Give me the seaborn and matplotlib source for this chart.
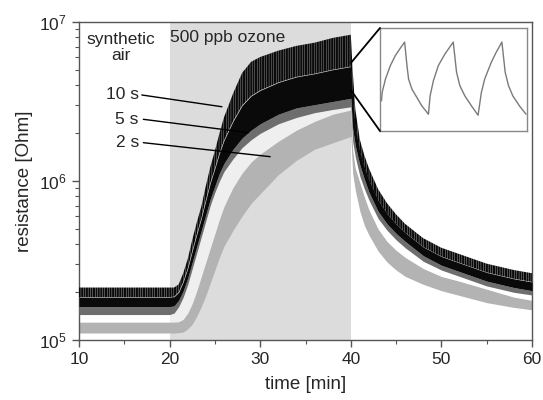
import numpy as np
import matplotlib
matplotlib.use("Agg")
import matplotlib.pyplot as plt
import seaborn as sns
from matplotlib.patches import ConnectionPatch

# ---------------- data ----------------
time_min = [10, 20, 20.5, 21, 21.5, 22, 22.5, 23, 23.5, 24, 24.5, 25, 25.5, 26,
            27, 28, 29, 30, 32, 34, 36, 38, 40,
            40.2, 40.5, 41, 41.5, 42, 43, 44, 45, 46, 48, 50, 52, 55, 58, 60]

# log10(resistance / Ohm) envelopes
log_10s_top = [5.33, 5.33, 5.33, 5.35, 5.42, 5.51, 5.63, 5.74, 5.84, 5.97, 6.09, 6.19, 6.30, 6.40,
               6.55, 6.68, 6.75, 6.78, 6.82, 6.85, 6.87, 6.90, 6.92,
               6.70, 6.45, 6.26, 6.16, 6.08, 5.95, 5.86, 5.79, 5.73, 5.64, 5.58, 5.54, 5.48, 5.44, 5.42]
log_10s_bottom = [5.21, 5.21, 5.215, 5.25, 5.31, 5.39, 5.49, 5.59, 5.69, 5.79, 5.89, 5.97, 6.05, 6.11,
                  6.20, 6.27, 6.32, 6.36, 6.42, 6.46, 6.48, 6.50, 6.52,
                  6.33, 6.22, 6.10, 6.01, 5.93, 5.81, 5.73, 5.67, 5.62, 5.53, 5.47, 5.43, 5.37, 5.33, 5.31]
log_5s_bottom = [5.16, 5.16, 5.17, 5.21, 5.27, 5.35, 5.45, 5.55, 5.65, 5.75, 5.85, 5.93, 6.00, 6.06,
                 6.14, 6.21, 6.26, 6.30, 6.36, 6.40, 6.43, 6.45, 6.467,
                 6.25, 6.15, 6.03, 5.95, 5.88, 5.765, 5.69, 5.63, 5.58, 5.495, 5.44, 5.40, 5.34, 5.30, 5.283]
log_2s_top = [5.113, 5.113, 5.113, 5.115, 5.13, 5.17, 5.23, 5.31, 5.40, 5.49, 5.58, 5.67, 5.76, 5.84,
              5.96, 6.05, 6.12, 6.17, 6.25, 6.32, 6.375, 6.42, 6.447,
              6.20, 6.08, 5.99, 5.90, 5.82, 5.70, 5.62, 5.565, 5.52, 5.45, 5.40, 5.37, 5.32, 5.27, 5.25]
log_2s_bottom = [5.044, 5.044, 5.044, 5.046, 5.05, 5.07, 5.10, 5.15, 5.21, 5.28, 5.36, 5.44, 5.52, 5.59,
                 5.69, 5.78, 5.86, 5.92, 6.04, 6.13, 6.20, 6.24, 6.28,
                 6.05, 5.94, 5.81, 5.72, 5.66, 5.56, 5.49, 5.44, 5.40, 5.35, 5.31, 5.28, 5.235, 5.205, 5.19]

# inset: detail of the 10 s pulses (time in s, resistance in MOhm)
inset_time_s = [0.41, 0.68, 2.04, 4.07, 6.11, 8.14, 9.91, 10.86, 11.53, 12.89, 14.93, 16.96, 19.68,
                20.36, 21.71, 23.75, 26.46, 29.85, 31.21, 32.57, 34.60, 37.32, 40.03,
                41.39, 42.75, 45.46, 47.50, 49.81, 51.16, 52.52, 54.28, 57.0, 59.7]
inset_r_mohm = [4.05, 4.62, 5.53, 6.45, 7.13, 7.63, 8.04, 6.45, 5.53, 4.85, 4.28, 3.71, 3.14,
                4.39, 5.42, 6.45, 7.24, 8.04, 5.99, 5.08, 4.39, 3.71, 3.07,
                4.62, 5.53, 6.67, 7.36, 8.04, 5.99, 5.08, 4.39, 3.71, 3.14]

ozone_window = (20, 40)
x_ticks = [10, 20, 30, 40, 50, 60]
pulse_labels = ["10 s", "5 s", "2 s"]
label_text_pos = [(16.6, 6.541), (16.6, 6.388), (16.6, 6.241)]
label_line_start = [(16.93, 6.541), (17.1, 6.388), (17.1, 6.241)]
label_line_end = [(25.77, 6.467), (28.7, 6.304), (31.1, 6.153)]

# ---------------- styling ----------------
sns.set_style("ticks")
plt.rcParams["font.family"] = ["Liberation Sans", "DejaVu Sans"]
plt.rcParams["hatch.linewidth"] = 1.5
plt.rcParams["mathtext.fontset"] = "custom"
plt.rcParams["mathtext.rm"] = "Liberation Sans"

fig = plt.figure(figsize=(5.43, 4.0), dpi=100)
ax = fig.add_axes([0.1455, 0.15, 0.8343, 0.795])

t = np.array(time_min)
top10 = np.array(log_10s_top)
bot10 = np.array(log_10s_bottom)
bot5 = np.array(log_5s_bottom)
top2 = np.array(log_2s_top)
bot2 = np.array(log_2s_bottom)
mid10 = bot10 + 0.5 * (top10 - bot10)

ax.axvspan(*ozone_window, color="#dcdcdc", lw=0, zorder=0)

# 2 s
ax.fill_between(t, 10 ** bot2, 10 ** top2, color="#b3b3b3", lw=0, zorder=2)
# light gap between 2 s and 5 s
ax.fill_between(t, 10 ** top2, 10 ** bot5, color="white", alpha=0.55, lw=0, zorder=2)
# 5 s
ax.fill_between(t, 10 ** bot5, 10 ** bot10, color="#6e6e6e", lw=0, zorder=3)
# 10 s: dense lower part + spiky upper part
ax.fill_between(t, 10 ** bot10, 10 ** mid10, color="#0a0a0a", lw=0, zorder=4)
ax.fill_between(t, 10 ** mid10, 10 ** top10, facecolor="none", edgecolor="#0a0a0a",
                hatch="|||||||", lw=0, zorder=4)

ax.set_yscale("log")
ax.set_xlim(10, 60)
ax.set_ylim(1e5, 1e7)
ax.set_xticks(x_ticks)
ax.set_xticks([15, 25, 35, 45, 55], minor=True)
ax.set_xticklabels([str(v) for v in x_ticks])

for s in ax.spines.values():
    s.set_color("#555555")
    s.set_linewidth(1.0)
ax.tick_params(which="major", direction="out", length=5, width=1, color="#555555",
               labelsize=12.5, pad=4)
ax.tick_params(which="minor", direction="out", length=3, width=0.8, color="#555555")

ax.set_xlabel("time [min]", fontsize=13.5, labelpad=6)
ax.set_ylabel("resistance [Ohm]", fontsize=13.5, labelpad=4)

ax.text(14.6, 10 ** 6.94, "synthetic\nair", ha="center", va="top", fontsize=12.5,
        linespacing=1.15, zorder=6)
ax.text(20.05, 10 ** 6.903, "500 ppb ozone", ha="left", va="center", fontsize=12.5, zorder=6)

for lab, tp, ls, le in zip(pulse_labels, label_text_pos, label_line_start, label_line_end):
    ax.text(tp[0], 10 ** tp[1], lab, ha="right", va="center", fontsize=12.5, zorder=6)
    ax.plot([ls[0], le[0]], [10 ** ls[1], 10 ** le[1]], color="black", lw=1.0, zorder=6)

# inset
axins = fig.add_axes([0.6998, 0.6725, 0.2707, 0.2575])
sns.lineplot(x=inset_time_s, y=inset_r_mohm, ax=axins, color="#7a7a7a", lw=1.0)
axins.set_xlim(-0.2, 60.1)
axins.set_ylim(2.0, 9.0)
axins.set_xticks([])
axins.set_yticks([])
axins.set_xlabel("")
axins.set_ylabel("")
axins.set_facecolor("white")
for s in axins.spines.values():
    s.set_color("#888888")
    s.set_linewidth(1.0)

for ya, yb in [(10 ** 6.742, 1.0), (10 ** 6.572, 0.0)]:
    con = ConnectionPatch(xyA=(40, ya), coordsA=ax.transData,
                          xyB=(0, yb), coordsB=axins.transAxes,
                          color="black", lw=1.3, zorder=7)
    fig.add_artist(con)

fig.savefig("out.png", dpi=100)
